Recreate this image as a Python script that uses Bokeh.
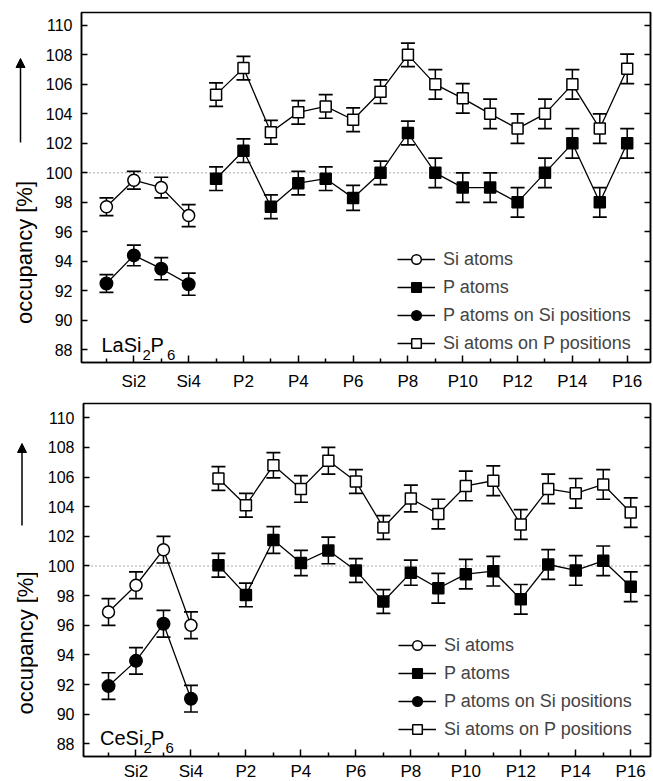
from bokeh.plotting import figure
from bokeh.models import (FixedTicker, LinearAxis, Span, Label, Arrow, NormalHead,
                          Legend, LegendItem, Range1d)
from bokeh.layouts import column, row
from bokeh.embed import file_html
from bokeh.resources import INLINE

FONT = "Liberation Sans"

# ---- sites (x categories) ----
si_sites = ["Si1", "Si2", "Si3", "Si4"]
p_sites = ["P1", "P2", "P3", "P4", "P5", "P6", "P7", "P8",
           "P9", "P10", "P11", "P12", "P13", "P14", "P15", "P16"]
y_ticks = [88, 90, 92, 94, 96, 98, 100, 102, 104, 106, 108, 110]

# ---- LaSi2P6 ----
la_si = [97.7, 99.5, 99.0, 97.1]
la_si_err = [0.6, 0.6, 0.7, 0.75]
la_p_on_si = [92.5, 94.4, 93.5, 92.45]
la_p_on_si_err = [0.6, 0.7, 0.75, 0.75]
la_p = [99.6, 101.5, 97.7, 99.3, 99.6, 98.3, 100.0, 102.7,
        100.0, 99.0, 99.0, 98.0, 100.0, 102.0, 98.0, 102.0]
la_p_err = [0.8, 0.8, 0.8, 0.8, 0.8, 0.85, 0.8, 0.8,
            1.0, 1.0, 1.0, 1.0, 1.0, 1.0, 1.0, 1.0]
la_si_on_p = [105.3, 107.1, 102.75, 104.1, 104.5, 103.6, 105.5, 108.0,
              106.0, 105.05, 104.0, 103.0, 104.0, 106.0, 103.0, 107.05]
la_si_on_p_err = [0.8, 0.8, 0.8, 0.8, 0.8, 0.8, 0.8, 0.8,
                  1.0, 1.0, 1.0, 1.0, 1.0, 1.0, 1.0, 1.0]

# ---- CeSi2P6 ----
ce_si = [96.9, 98.7, 101.1, 96.0]
ce_si_err = [0.9, 0.9, 0.9, 0.9]
ce_p_on_si = [91.9, 93.6, 96.1, 91.05]
ce_p_on_si_err = [0.9, 0.9, 0.9, 0.9]
ce_p = [100.05, 98.05, 101.75, 100.2, 101.05, 99.7, 97.6, 99.55,
        98.5, 99.45, 99.65, 97.75, 100.1, 99.7, 100.35, 98.6]
ce_p_err = [0.8, 0.8, 0.9, 0.85, 0.9, 0.8, 0.8, 0.85,
            1.0, 1.0, 1.0, 1.0, 1.0, 1.0, 1.0, 1.0]
ce_si_on_p = [105.9, 104.1, 106.8, 105.2, 107.1, 105.7, 102.6, 104.55,
              103.5, 105.4, 105.75, 102.8, 105.2, 104.9, 105.5, 103.6]
ce_si_on_p_err = [0.8, 0.8, 0.85, 0.9, 0.9, 0.8, 0.8, 0.9,
                  1.0, 1.0, 1.0, 1.0, 1.0, 1.0, 1.0, 1.0]

series_names = ["Si atoms", "P atoms", "P atoms on Si positions", "Si atoms on P positions"]
y_label = "occupancy [%]"

all_sites = si_sites + p_sites
si_x = [all_sites.index(s) + 1 for s in si_sites]
p_x = [all_sites.index(s) + 1 for s in p_sites]
major_x = [i + 1 for i in range(len(all_sites)) if (i + 1) % 2 == 0]
minor_x = [i + 1 for i in range(len(all_sites)) if (i + 1) % 2 == 1]
x_labels = {i: all_sites[i - 1] for i in major_x}

SIDE_W = 38


def series(p, xs, ys, errs, marker, fill, size):
    lo = [y - e for y, e in zip(ys, errs)]
    hi = [y + e for y, e in zip(ys, errs)]
    p.segment(x0=xs, y0=lo, x1=xs, y1=hi, line_color="black", line_width=1.5)
    p.scatter(xs, lo, marker="dash", size=14, line_color="black", line_width=1.7)
    p.scatter(xs, hi, marker="dash", size=14, line_color="black", line_width=1.7)
    ln = p.line(xs, ys, line_color="black", line_width=1.3)
    sc = p.scatter(xs, ys, marker=marker, size=size, fill_color=fill,
                   line_color="black", line_width=1.5)
    return [ln, sc]


def side(geom):
    h = geom["mt"] + geom["fh"] + geom["mb"]
    s = figure(frame_width=SIDE_W, frame_height=h, x_range=(0, SIDE_W), y_range=(0, h),
               output_backend="svg", toolbar_location=None, min_border=0,
               x_axis_type=None, y_axis_type=None,
               background_fill_color="white", border_fill_color="white")
    s.grid.visible = False
    s.outline_line_color = None
    lx, ly = geom["lab"]
    s.add_layout(Label(x=lx, y=ly, x_units="screen", y_units="screen",
                       text=y_label, angle=1.5708, text_align="center",
                       text_baseline="middle", text_font=FONT, text_font_size="22px",
                       text_color="black"))
    ax_, y0, y1 = geom["arrow"]
    s.add_layout(Arrow(x_start=ax_, y_start=y0, x_end=ax_, y_end=y1,
                       start_units="screen", end_units="screen", line_width=1.5,
                       end=NormalHead(size=9, fill_color="black", line_color="black",
                                      line_width=1)))
    return s


def panel(geom, name_parts, si, si_e, psi, psi_e, pp, pp_e, sip, sip_e):
    p = figure(frame_width=geom["fw"], frame_height=geom["fh"],
               x_range=Range1d(*geom["xr"]), y_range=Range1d(*geom["yr"]),
               output_backend="svg", toolbar_location=None,
               min_border_left=geom["ml"], min_border_right=3,
               min_border_top=geom["mt"], min_border_bottom=geom["mb"],
               background_fill_color="white", border_fill_color="white")
    p.grid.visible = False
    p.outline_line_color = "black"
    p.outline_line_width = 1.5

    xa = p.xaxis[0]
    xa.ticker = FixedTicker(ticks=major_x, minor_ticks=minor_x)
    xa.major_label_overrides = x_labels
    xa.major_tick_in = 7
    xa.major_tick_out = 0
    xa.minor_tick_in = 4
    xa.minor_tick_out = 0
    xa.major_tick_line_width = 1.5
    xa.minor_tick_line_width = 1.5
    xa.axis_line_width = 1.5
    xa.major_label_standoff = geom["xstand"]
    xa.major_label_text_font = FONT
    xa.major_label_text_font_size = "17px"
    xa.major_label_text_color = "black"

    ya = p.yaxis[0]
    ya.ticker = FixedTicker(ticks=y_ticks, minor_ticks=[])
    ya.major_tick_in = 6
    ya.major_tick_out = 0
    ya.major_tick_line_width = 1.5
    ya.axis_line_width = 1.5
    ya.major_label_standoff = 9
    ya.major_label_text_font = FONT
    ya.major_label_text_font_size = "16px"
    ya.major_label_text_color = "black"

    ra = LinearAxis(ticker=FixedTicker(ticks=y_ticks, minor_ticks=[]),
                    major_tick_in=6, major_tick_out=0, major_tick_line_width=1.5,
                    major_label_text_font_size="0px", major_label_text_color=None,
                    major_label_standoff=0, axis_line_width=1.5)
    p.add_layout(ra, "right")

    p.add_layout(Span(location=100, dimension="width", line_color="#555555",
                      line_dash="1 3", line_width=1, level="underlay"))

    r_si = series(p, si_x, si, si_e, "circle", "white", 12)
    r_pp = series(p, p_x, pp, pp_e, "square", "black", 11)
    r_psi = series(p, si_x, psi, psi_e, "circle", "black", 12.5)
    r_sip = series(p, p_x, sip, sip_e, "square", "white", 11)

    items = [LegendItem(label=n, renderers=r) for n, r in
             zip(series_names, [r_si, r_pp, r_psi, r_sip])]
    leg = Legend(items=items, location=geom["leg"], glyph_width=38, glyph_height=24,
                 label_height=24, spacing=4, padding=0, margin=0, label_standoff=8,
                 label_text_font=FONT, label_text_font_size="18px",
                 border_line_color=None, background_fill_alpha=0)
    p.add_layout(leg, "center")

    # compound label with subscripts
    for (txt, px, py, fs) in zip(name_parts, geom["name_x"], geom["name_y"], geom["name_fs"]):
        p.add_layout(Label(x=px, y=py, x_units="screen", y_units="screen", text=txt,
                           text_font=FONT, text_font_size=fs, text_color="black",
                           text_baseline="alphabetic"))
    return p


geom_top = dict(fw=569, fh=350, xr=(0.09, 20.85), yr=(87.14, 110.87),
                ml=81 - SIDE_W, mt=12, mb=30, xstand=9,
                leg=(316, 7), lab=(24, 152), arrow=(20, 262, 346),
                name_x=[20, 61, 69, 85.5], name_y=[17.7, 7.7, 17.7, 7.7],
                name_fs=["20px", "15px", "20px", "15px"])
geom_bot = dict(fw=567, fh=353, xr=(0.09, 20.72), yr=(87.15, 110.96),
                ml=83 - SIDE_W, mt=10, mb=26, xstand=5,
                leg=(315, 15), lab=(25, 149.5), arrow=(21.5, 267, 349),
                name_x=[16.5, 60, 67.5, 82], name_y=[18.3, 8.3, 18.3, 8.3],
                name_fs=["20px", "15px", "20px", "15px"])

p1 = panel(geom_top, ["LaSi", "2", "P", "6"], la_si, la_si_err, la_p_on_si, la_p_on_si_err,
           la_p, la_p_err, la_si_on_p, la_si_on_p_err)
p2 = panel(geom_bot, ["CeSi", "2", "P", "6"], ce_si, ce_si_err, ce_p_on_si, ce_p_on_si_err,
           ce_p, ce_p_err, ce_si_on_p, ce_si_on_p_err)
s1 = side(geom_top)
s2 = side(geom_bot)

layout = column(row(s1, p1, spacing=0), row(s2, p2, spacing=0), spacing=0)
open("out.html", "w").write(file_html(layout, INLINE))
